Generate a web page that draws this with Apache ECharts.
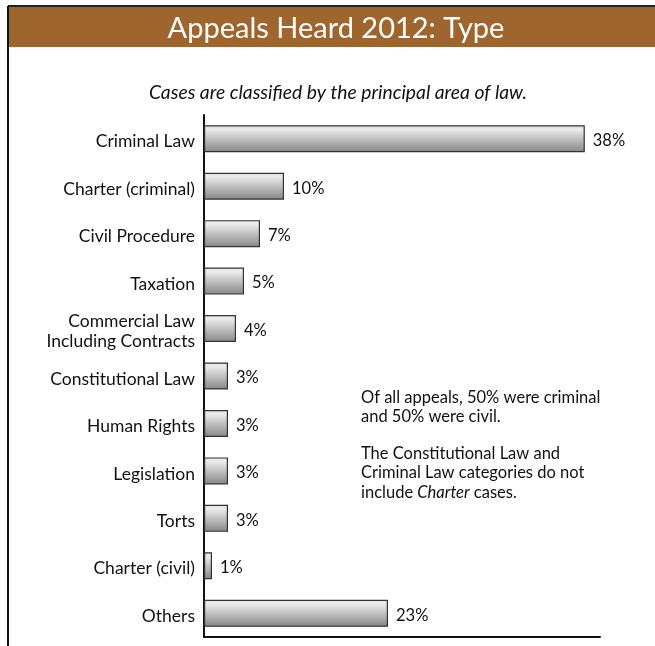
<!DOCTYPE html>
<html>
<head>
<meta charset="utf-8">
<script src="https://cdn.jsdelivr.net/npm/echarts@6/dist/echarts.min.js"></script>
<style>
html,body{margin:0;padding:0;background:#fff;}
#chart{width:655px;height:646px;}
</style>
</head>
<body>
<div id="chart"></div>
<script>
const categories = ['Criminal Law','Charter (criminal)','Civil Procedure','Taxation','Commercial Law\nIncluding Contracts','Constitutional Law','Human Rights','Legislation','Torts','Charter (civil)','Others'];
// bar lengths as drawn in the picture
const barLengths = [47.6, 10, 7, 5, 4, 3, 3, 3, 3, 1, 23];
// percentages printed next to bars
const percentLabels = [38, 10, 7, 5, 4, 3, 3, 3, 3, 1, 23];
const titleText = 'Appeals Heard 2012: Type';
const subtitleText = 'Cases are classified by the principal area of law.';

const FONT = 'Lato, "Open Sans", sans-serif';
const chart = echarts.init(document.getElementById('chart'));
chart.setOption({
  animation: false,
  backgroundColor: '#fff',
  graphic: [
    { type: 'rect', shape: { x: 9, y: 7, width: 646, height: 40 }, style: { fill: '#9f652f' }, z: 0 },
    { type: 'line', shape: { x1: 8, y1: 6, x2: 655, y2: 6 }, style: { stroke: '#222', lineWidth: 2 }, z: 1 },
    { type: 'line', shape: { x1: 8, y1: 6, x2: 8, y2: 646 }, style: { stroke: '#111', lineWidth: 2 }, z: 1 },
    { type: 'text', left: 361, top: 389, z: 5,
      style: {
        rich: { n: { fontFamily: FONT, fontSize: 16.5, fill: '#111', lineHeight: 19.5 },
                i: { fontFamily: FONT, fontSize: 16.5, fill: '#111', fontStyle: 'italic', lineHeight: 19.5 },
                g: { fontSize: 14, lineHeight: 17 } },
        text: '{n|Of all appeals, 50% were criminal}\n{n|and 50% were civil.}\n{g| }\n{n|The Constitutional Law and}\n{n|Criminal Law categories do not}\n{n|include }{i|Charter}{n| cases.}'
      } }
  ],
  title: [
    { text: titleText, left: 331, textAlign: 'center', top: 9, textStyle: { color: '#fff', fontSize: 29, fontWeight: 'normal', fontFamily: FONT } },
    { text: subtitleText, left: 333, textAlign: 'center', top: 78, textStyle: { color: '#111', fontSize: 19.3, fontWeight: 'normal', fontStyle: 'italic', fontFamily: FONT } }
  ],
  grid: { left: 204, right: 55, top: 115, bottom: 9, containLabel: false },
  xAxis: {
    type: 'value', min: 0, max: 49.5,
    axisLine: { show: true, lineStyle: { color: '#111', width: 2 } },
    axisTick: { show: false }, axisLabel: { show: false }, splitLine: { show: false }
  },
  yAxis: {
    type: 'category', data: categories, inverse: true,
    axisLine: { show: true, lineStyle: { color: '#111', width: 2 } },
    axisTick: { show: false },
    axisLabel: {
      color: '#111', margin: 9, align: 'right',
      formatter: v => v.split('\n').map(s => '{a|' + s + '}').join('\n'),
      rich: { a: { fontSize: 17.5, fontFamily: FONT, color: '#111', lineHeight: 20, padding: [6, 0, 0, 0], align: 'right' } }
    }
  },
  series: [{
    type: 'bar',
    data: barLengths,
    barWidth: 27,
    itemStyle: {
      borderColor: '#333', borderWidth: 1.2,
      color: new echarts.graphic.LinearGradient(0, 0, 0, 1, [
        { offset: 0, color: '#e2e2e2' },
        { offset: 0.15, color: '#ebebeb' },
        { offset: 1, color: '#868686' }
      ])
    },
    label: {
      show: true, position: 'right', distance: 8, offset: [0, 2],
      color: '#111', fontSize: 16.5, fontFamily: FONT,
      formatter: p => percentLabels[p.dataIndex] + '%'
    }
  }]
});
</script>
</body>
</html>
